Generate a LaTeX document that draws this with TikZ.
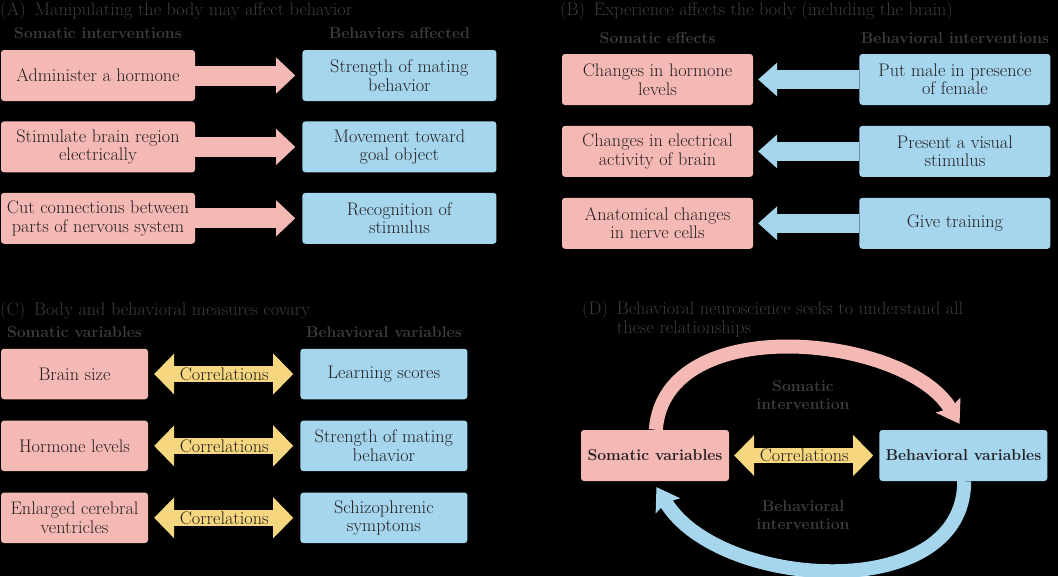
\documentclass[tikz,border=0pt]{standalone}
\usetikzlibrary{positioning,arrows.meta}
\definecolor{somapink}{HTML}{F5B9B5}
\definecolor{behavblue}{HTML}{A5D6EE}
\definecolor{corryellow}{HTML}{F6D67F}
\definecolor{boxtext}{HTML}{231F20}
\definecolor{titlegrey}{HTML}{3D3D3D}
\tikzset{
  every node/.style={font=\fontsize{18.2}{18.5}\selectfont},
  box/.style={rounded corners=3pt, align=center, inner sep=1pt, minimum height=51pt, text=boxtext},
  pinkbox/.style={box, fill=somapink},
  bluebox/.style={box, fill=behavblue},
  colhead/.style={font=\fontsize{15.7}{18}\selectfont\bfseries, text=titlegrey, inner sep=0pt},
  paneltitle/.style={text=titlegrey, inner sep=0pt, anchor=base west, align=left},
  pushpink/.style={draw=somapink, line width=20pt,
    -{Triangle[length=19pt,width=36pt,line width=0pt]}, shorten >=7pt},
  pushblue/.style={draw=behavblue, line width=19pt,
    -{Triangle[length=19pt,width=34pt,line width=0pt]}, shorten >=5pt},
  corr/.style={draw=corryellow, line width=16pt,
    {Triangle[length=20pt,width=41pt,line width=0pt]}-{Triangle[length=20pt,width=41pt,line width=0pt]}},
  corrtext/.style={midway, text=boxtext, inner sep=0pt},
  loopflow/.style={line width=14pt, -{Stealth[length=22pt,width=29pt,inset=4pt,line width=0pt]}, shorten >=7pt},
}

\begin{document}
\begin{tikzpicture}[x=1pt, y=1pt]
  \useasboundingbox (0,0) rectangle (1058,-576);
  \fill[black] (0,0) rectangle (1058,-576);

  % (A) somatic interventions -> behaviors
  \node[paneltitle] (titleA) at (0,-15) {(A)\hspace{9pt}Manipulating the body may affect behavior};
  \begin{scope}[pinkbox/.append style={minimum width=194pt}, bluebox/.append style={minimum width=194pt}]
    \node[pinkbox] (si1) at (98,-75.5) {Administer a hormone};
    \node[pinkbox, below=20pt of si1] (si2) {Stimulate brain region\\electrically};
    \node[pinkbox, below=20pt of si2] (si3) {Cut connections between\\parts of nervous system};
    \node[bluebox, right=107pt of si1] (ba1) {Strength of mating\\behavior};
    \node[bluebox, right=107pt of si2] (ba2) {Movement toward\\goal object};
    \node[bluebox, right=107pt of si3] (ba3) {Recognition of\\stimulus};
  \end{scope}
  \node[colhead, above=11pt of si1] (hsi) {Somatic interventions};
  \node[colhead, above=11pt of ba1] (hba) {Behaviors affected};
  \foreach \i in {1,2,3}
    \draw[pushpink] (si\i) -- (ba\i);

  % (B) behavioral interventions -> somatic effects
  \node[paneltitle] (titleB) at (560,-15) {(B)\hspace{9pt}Experience affects the body (including the brain)};
  \begin{scope}[pinkbox/.append style={minimum width=191pt}, bluebox/.append style={minimum width=191pt}]
    \node[pinkbox] (se1) at (657.5,-79.5) {Changes in hormone\\levels};
    \node[pinkbox, below=20.5pt of se1] (se2) {Changes in electrical\\activity of brain};
    \node[pinkbox, below=20.5pt of se2] (se3) {Anatomical changes\\in nerve cells};
    \node[bluebox, right=106pt of se1] (bi1) {Put male in presence\\of female};
    \node[bluebox, right=106pt of se2] (bi2) {Present a visual\\stimulus};
    \node[bluebox, right=106pt of se3] (bi3) {Give training};
  \end{scope}
  \node[colhead, above=10pt of se1] (hse) {Somatic effects};
  \node[colhead, above=10pt of bi1] (hbi) {Behavioral interventions};
  \foreach \i in {1,2,3}
    \draw[pushblue] (bi\i) -- (se\i);

  % (C) covariation
  \node[paneltitle] (titleC) at (0,-315) {(C)\hspace{9pt}Body and behavioral measures covary};
  \begin{scope}[pinkbox/.append style={minimum width=147pt, minimum height=50.5pt},
                bluebox/.append style={minimum width=167pt, minimum height=50.5pt}]
    \node[pinkbox] (sv1) at (74.5,-374) {Brain size};
    \node[pinkbox, below=21pt of sv1] (sv2) {Hormone levels};
    \node[pinkbox, below=21pt of sv2] (sv3) {Enlarged cerebral\\ventricles};
    \node[bluebox, right=152pt of sv1] (bv1) {Learning scores};
    \node[bluebox, right=152pt of sv2] (bv2) {Strength of mating\\behavior};
    \node[bluebox, right=152pt of sv3] (bv3) {Schizophrenic\\symptoms};
  \end{scope}
  \node[colhead, above=11pt of sv1] (hsv) {Somatic variables};
  \node[colhead, above=11pt of bv1] (hbv) {Behavioral variables};
  \foreach \i in {1,2,3}
    \draw[corr, shorten <=6pt, shorten >=7pt] (sv\i) -- node[corrtext] {Correlations} (bv\i);

  % (D) the whole loop
  \node[paneltitle] (titleD) at (582,-333)
    {(D)\hspace{9pt}Behavioral neuroscience seeks to understand all\\\phantom{(D)}\hspace{9pt}these relationships};
  \node[pinkbox, minimum width=148pt, font=\fontsize{15.7}{18}\selectfont\bfseries] (somvar) at (655,-455.5) {Somatic variables};
  \node[bluebox, minimum width=168pt, font=\fontsize{15.7}{18}\selectfont\bfseries, right=150pt of somvar] (behvar) {Behavioral variables};
  \draw[corr, line width=15pt, shorten <=5pt, shorten >=6pt] (somvar) -- node[corrtext] {Correlations} (behvar);
  \draw[loopflow, draw=somapink] ([xshift=75pt]somvar.north west)
    .. controls +(9,120) and +(-58,95) .. ([xshift=84pt]behvar.north west);
  \draw[loopflow, draw=behavblue] ([xshift=85pt]behvar.south west)
    .. controls +(0,-124) and +(67,-109) .. ([xshift=72pt]somvar.south west);
  \node[colhead, align=center] (somint) at (803,-395) {Somatic\\intervention};
  \node[colhead, align=center] (behint) at (803,-515) {Behavioral\\intervention};
\end{tikzpicture}
\end{document}
